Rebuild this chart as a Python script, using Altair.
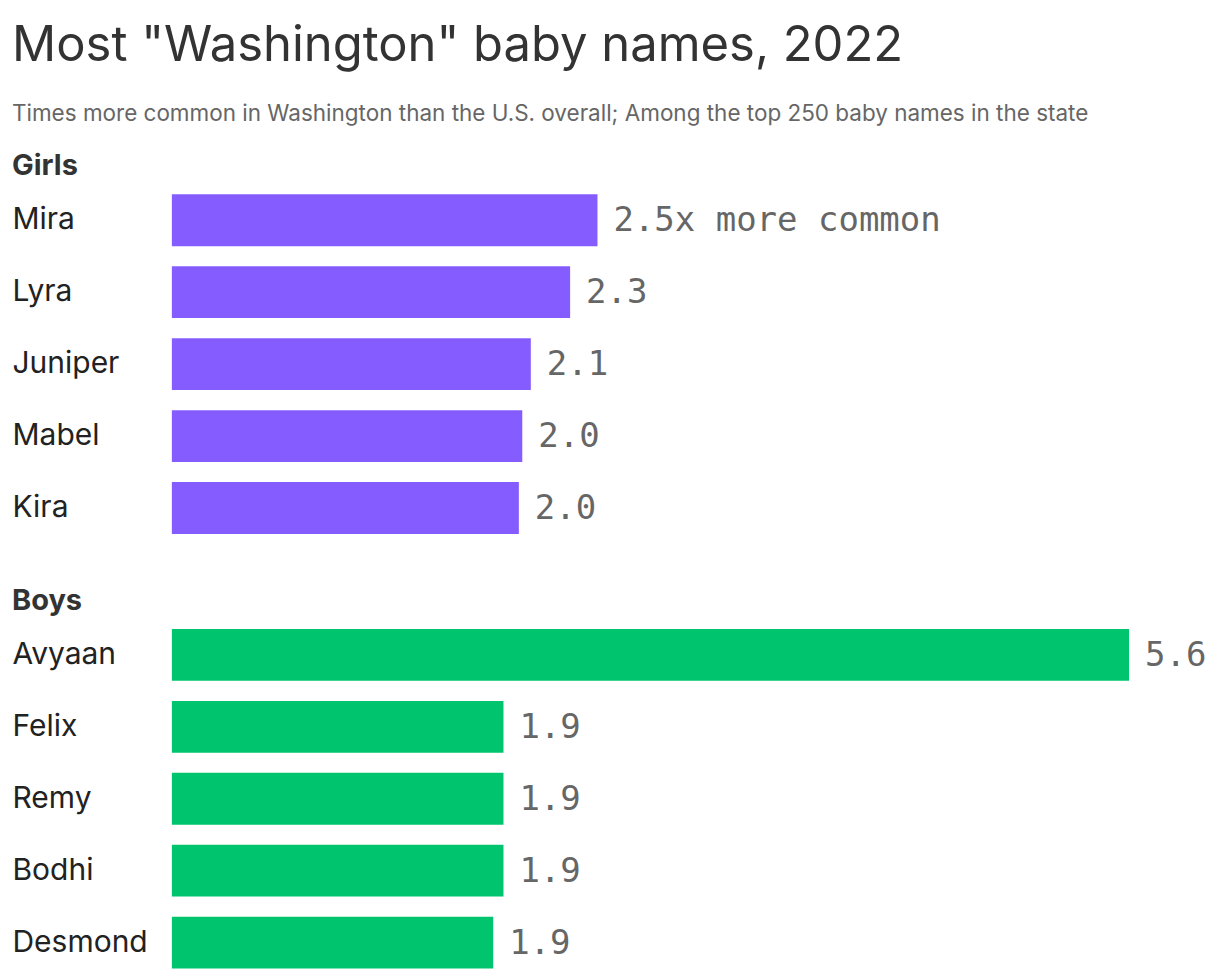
import pandas as pd
import altair as alt

girls_names = ["Mira", "Lyra", "Juniper", "Mabel", "Kira"]
girls_values = [2.49, 2.33, 2.10, 2.05, 2.03]
girls_labels = ["2.5x more common", "2.3", "2.1", "2.0", "2.0"]

boys_names = ["Avyaan", "Felix", "Remy", "Bodhi", "Desmond"]
boys_values = [5.6, 1.94, 1.94, 1.94, 1.88]
boys_labels = ["5.6", "1.9", "1.9", "1.9", "1.9"]

SANS = "Inter"
MONO = "DejaVu Sans Mono"


def panel(names, values, labels, color, title):
    df = pd.DataFrame({"name": names, "ratio": values, "label": labels})
    base = alt.Chart(df).encode(
        y=alt.Y(
            "name:N",
            sort=names,
            scale=alt.Scale(paddingInner=0.28, paddingOuter=0.14),
            axis=alt.Axis(
                title=None,
                domain=False,
                ticks=False,
                labelAlign="left",
                labelPadding=160,
                labelFont=SANS,
                labelFontSize=30,
                labelColor="#222222",
                labelLimit=200,
            ),
        ),
        x=alt.X("ratio:Q", scale=alt.Scale(domain=[0, 5.6], nice=False), axis=None),
    )
    bars = base.mark_bar(color=color)
    text = base.mark_text(
        align="left", baseline="middle", dx=16, dy=1, font=MONO, fontSize=34, color="#666666"
    ).encode(text="label:N")
    return (bars + text).properties(
        width=958,
        height=360,
        title=alt.TitleParams(
            title,
            anchor="start",
            font=SANS,
            fontSize=29,
            fontWeight="bold",
            color="#333333",
            offset=3,
        ),
    )


girls = panel(girls_names, girls_values, girls_labels, "#855CFF", "Girls")
boys = panel(boys_names, boys_values, boys_labels, "#00C46E", "Boys")

chart = (
    alt.vconcat(girls, boys, spacing=43)
    .properties(
        padding={"left": 4, "top": 13, "right": 5, "bottom": 5},
        title=alt.TitleParams(
            'Most "Washington" baby names, 2022',
            subtitle="Times more common in Washington than the U.S. overall; Among the top 250 baby names in the state",
            anchor="start",
            font=SANS,
            fontSize=49,
            fontWeight="normal",
            color="#333333",
            subtitleFont=SANS,
            subtitleFontSize=22.5,
            subtitleColor="#666666",
            subtitlePadding=32,
            offset=27,
        ),
    )
    .configure_view(stroke=None)
)

chart.save("out.html", embed_options={"renderer": "svg", "actions": False})
